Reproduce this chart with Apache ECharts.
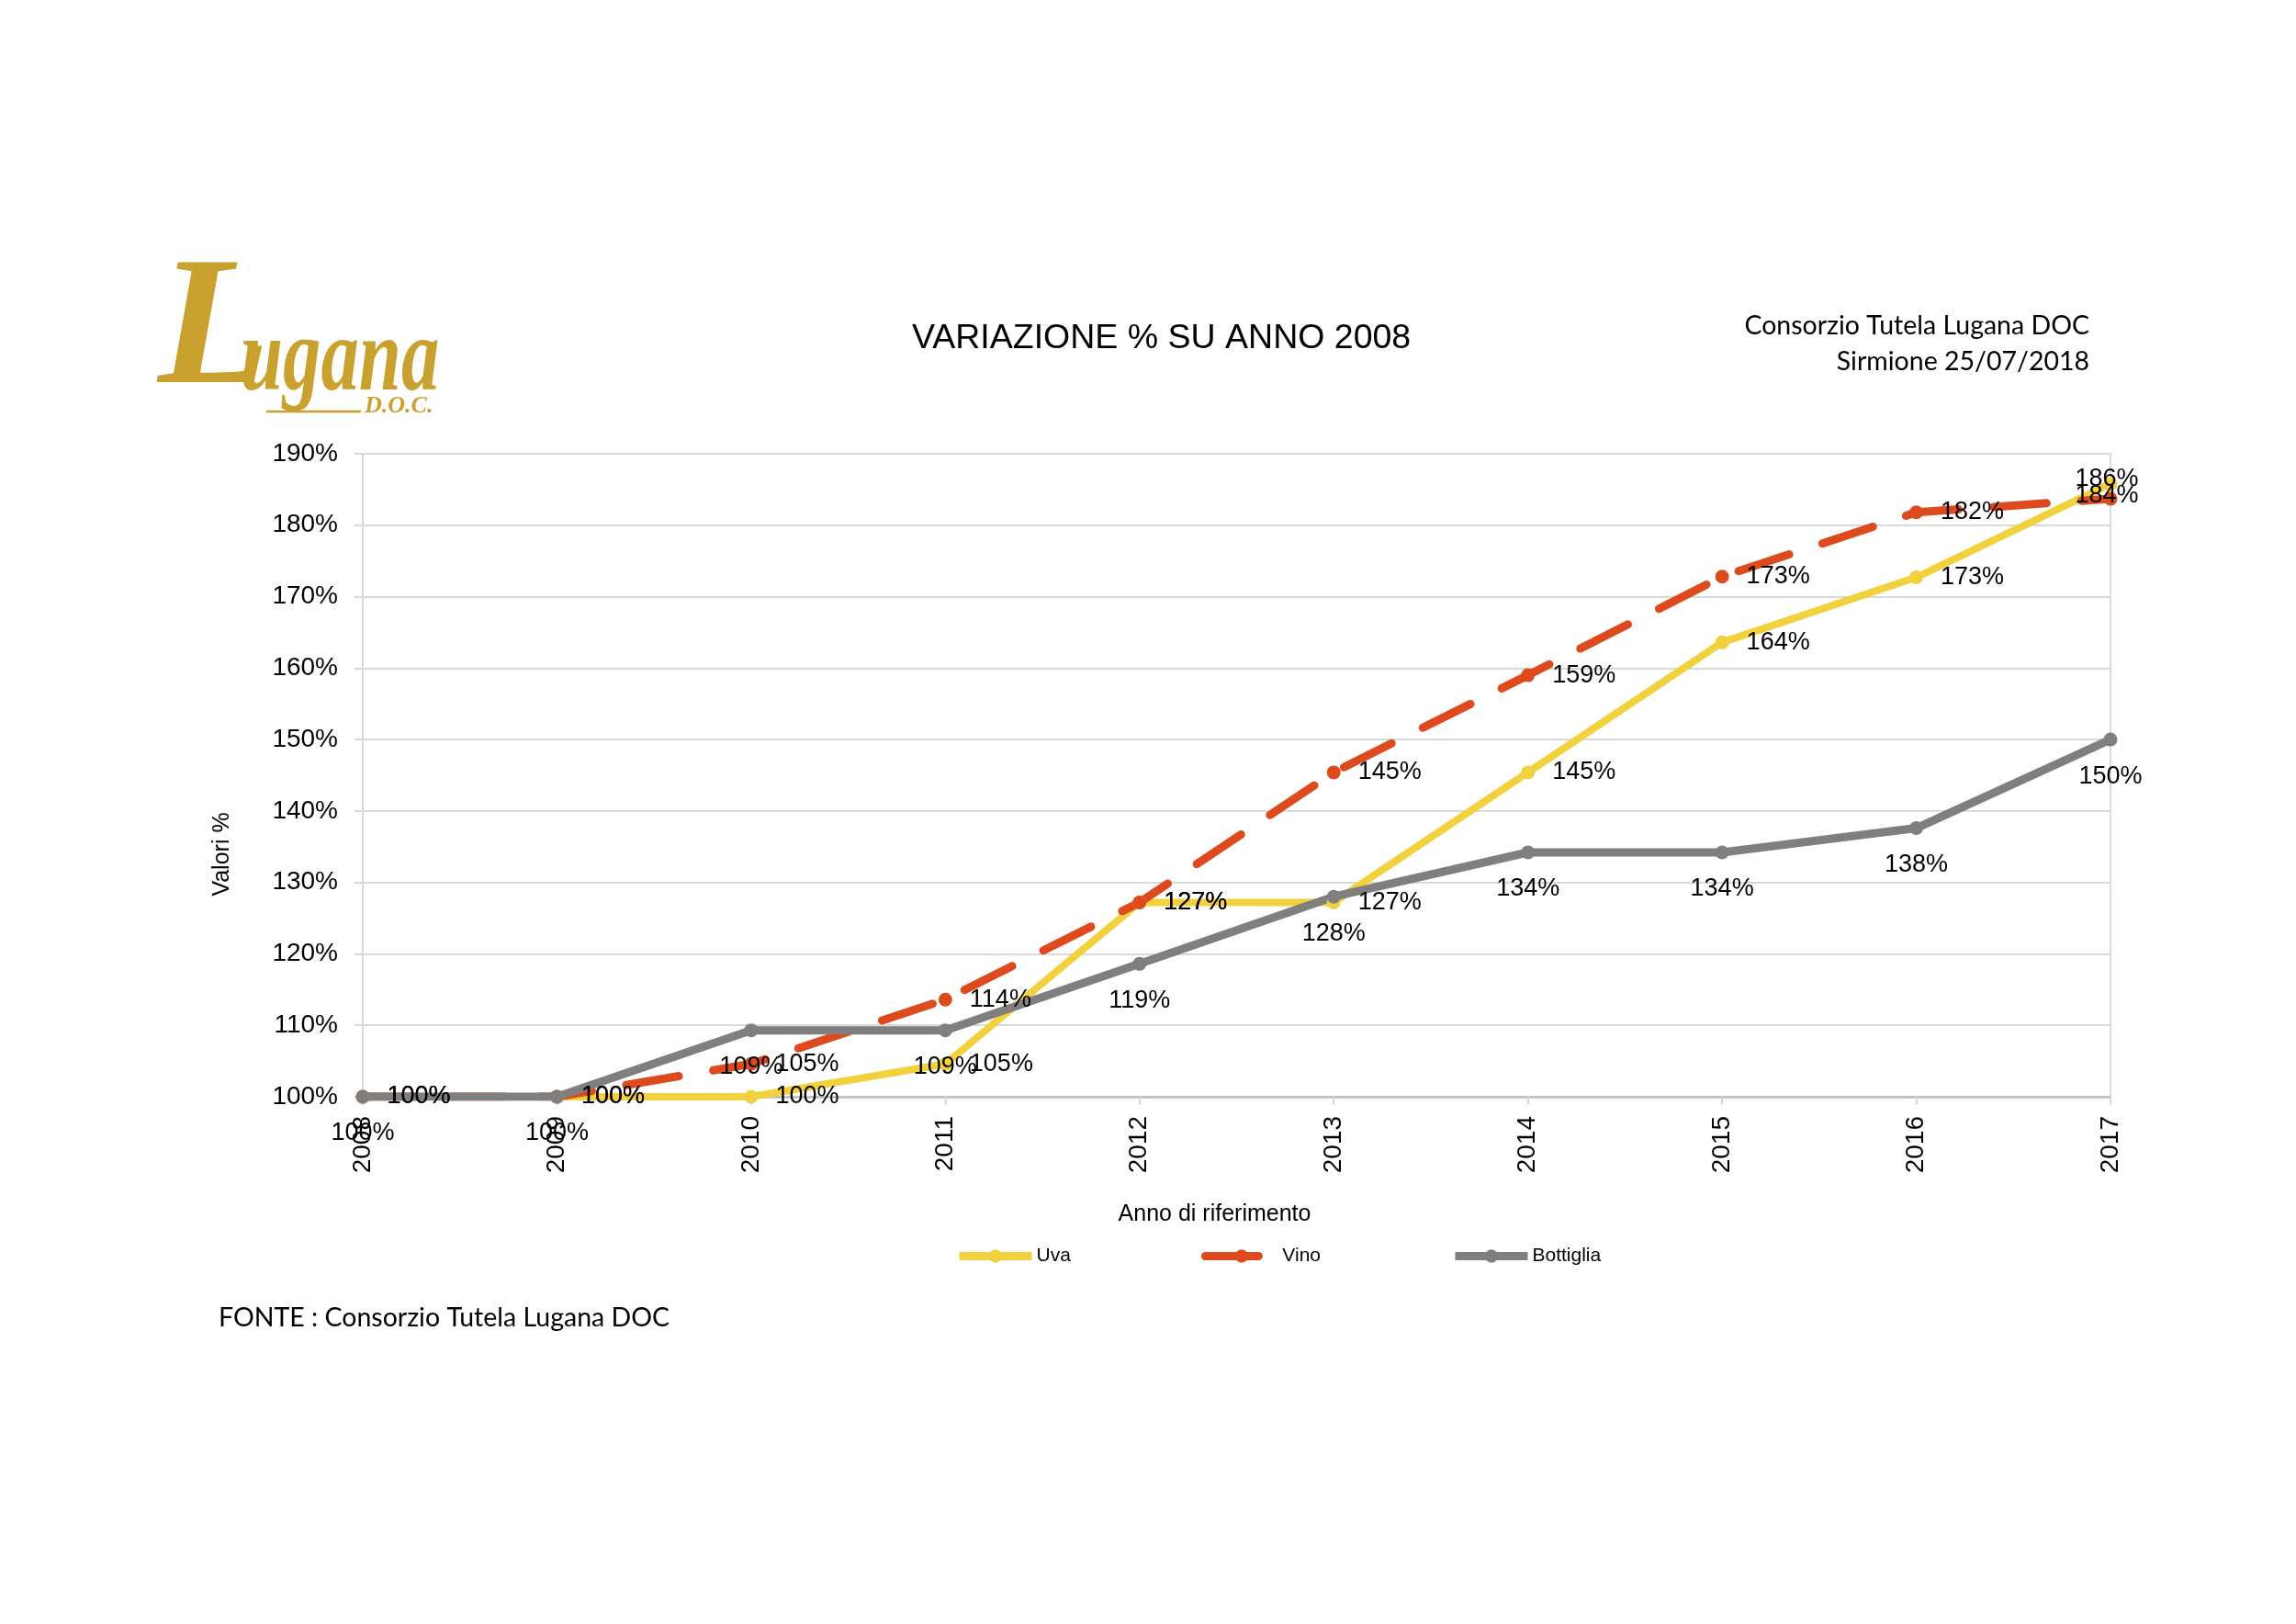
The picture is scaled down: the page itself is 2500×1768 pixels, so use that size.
<!DOCTYPE html>
<html><head><meta charset="utf-8">
<script src="https://cdn.jsdelivr.net/npm/echarts@6/dist/echarts.min.js"></script>
<style>html,body{margin:0;padding:0;background:#fff}#c{width:2500px;height:1768px}</style>
</head><body><div id="c"></div>
<script>
// ---- data ----
const years = ['2008','2009','2010','2011','2012','2013','2014','2015','2016','2017'];
const uva = [100, 100, 100, 104.6, 127.2, 127.2, 145.4, 163.6, 172.7, 185.8];
const vino = [100, 100, 104.6, 113.6, 127.2, 145.4, 159.0, 172.8, 181.8, 183.7];
const bottiglia = [100, 100, 109.3, 109.3, 118.6, 128.0, 134.2, 134.2, 137.6, 150.0];
const seriesNames = ['Uva', 'Vino', 'Bottiglia'];
const yMin = 100, yMax = 190, yInterval = 10;
const titleText = 'VARIAZIONE % SU ANNO 2008';
const headerLines = ['Consorzio Tutela Lugana DOC', 'Sirmione 25/07/2018'];
const sourceText = 'FONTE : Consorzio Tutela Lugana DOC';
const xName = 'Anno di riferimento';
const yName = 'Valori %';

// ---- styles ----
const SANS = '"Liberation Sans", Arial, sans-serif';
const CAL = 'Lato, "Open Sans", sans-serif';
const GOLD = '#C9A12E';
const C_UVA = '#F1D13E', C_VINO = '#DD4A1E', C_BOT = '#7F7F7F';
const fmt = p => Math.round(p.value) + '%';
const last = years.length - 1;

function withLastLabel(arr, offset) {
  return arr.map((v, i) => i === last ? { value: v, label: { position: 'inside', offset: offset } } : v);
}
function lbl(pos) {
  return { show: true, position: pos, distance: 19, formatter: fmt, fontSize: 27, color: '#000', fontFamily: SANS };
}

const chart = echarts.init(document.getElementById('c'), null, { renderer: 'canvas' });
chart.setOption({
  backgroundColor: '#fff',
  animation: false,
  title: {
    text: titleText, left: 988, top: 345,
    textStyle: { fontSize: 37.5, fontWeight: 'normal', color: '#000', fontFamily: SANS, lineHeight: 38 }
  },
  legend: {
    data: seriesNames, left: 1040, top: 1357, padding: 0, itemWidth: 79, itemHeight: 18, itemGap: 142,
    lineStyle: { width: 9 },
    textStyle: { fontSize: 21, color: '#000', fontFamily: SANS }
  },
  grid: {
    left: 395, right: 202, top: 494, bottom: 574, show: true,
    borderColor: '#D9D9D9', borderWidth: 2, outerBoundsMode: 'none', containLabel: false
  },
  xAxis: {
    type: 'category', data: years, boundaryGap: false,
    axisLine: { lineStyle: { color: '#BFBFBF', width: 2.5 } },
    axisTick: { show: true, length: 9, lineStyle: { color: '#D9D9D9', width: 2 } },
    axisLabel: { interval: 0, rotate: 90, fontSize: 28, color: '#000', margin: 21, fontFamily: SANS },
    name: xName, nameLocation: 'middle', nameGap: 116,
    nameTextStyle: { fontSize: 25, color: '#000', fontFamily: SANS, padding: [0, 48, 0, 0] }
  },
  yAxis: {
    type: 'value', min: yMin, max: yMax, interval: yInterval,
    axisLine: { show: true, lineStyle: { color: '#D9D9D9', width: 2 } },
    axisTick: { show: true, length: 9, lineStyle: { color: '#D9D9D9', width: 2 } },
    splitLine: { lineStyle: { color: '#D9D9D9', width: 2 } },
    axisLabel: { formatter: '{value}%', fontSize: 28, color: '#000', margin: 27, fontFamily: SANS },
    name: yName, nameLocation: 'middle', nameGap: 140, nameRotate: 90,
    nameTextStyle: { fontSize: 25, color: '#000', fontFamily: SANS, padding: [0, 172, 0, 0] }
  },
  series: [
    {
      name: seriesNames[0], type: 'line', data: withLastLabel(uva, [-4, -5]),
      symbol: 'circle', symbolSize: 15,
      lineStyle: { width: 8, color: C_UVA }, itemStyle: { color: C_UVA },
      label: lbl('right'), emphasis: { disabled: true }
    },
    {
      name: seriesNames[1], type: 'line', data: withLastLabel(vino, [-4, -3]),
      symbol: 'circle', symbolSize: 15,
      lineStyle: { width: 9, color: C_VINO, type: [58, 38], cap: 'round' }, itemStyle: { color: C_VINO },
      label: lbl('right'), emphasis: { disabled: true }
    },
    {
      name: seriesNames[2], type: 'line', data: bottiglia,
      symbol: 'circle', symbolSize: 15,
      lineStyle: { width: 9, color: C_BOT }, itemStyle: { color: C_BOT },
      label: lbl('bottom'), emphasis: { disabled: true }
    }
  ],
  graphic: [
    { type: 'text', x: 172, y: 364, style: { text: 'L', fontSize: 200, fontStyle: 'italic', fontWeight: 'bold', fontFamily: '"Liberation Serif", serif', fill: GOLD, align: 'left', verticalAlign: 'middle' } },
    { type: 'text', x: 262, y: 394, scaleX: 0.72, style: { text: 'ugana', fontSize: 115, fontStyle: 'italic', fontWeight: 'bold', fontFamily: '"Liberation Serif", serif', fill: GOLD, align: 'left', verticalAlign: 'middle' } },
    { type: 'text', x: 397, y: 442, style: { text: 'D.O.C.', fontSize: 26, fontStyle: 'italic', fontWeight: 'bold', fontFamily: '"Liberation Serif", serif', fill: GOLD, align: 'left', verticalAlign: 'middle' } },
    { type: 'line', shape: { x1: 290, y1: 448, x2: 393, y2: 448 }, style: { stroke: GOLD, lineWidth: 2.5 } },
    { type: 'text', x: 2275, y: 335, style: { text: headerLines.join('\n'), fontSize: 28.5, lineHeight: 39, fontFamily: CAL, fill: '#000', align: 'right', verticalAlign: 'top' } },
    { type: 'text', x: 238, y: 1421, style: { text: sourceText, fontSize: 28.5, lineHeight: 28, fontFamily: CAL, fill: '#000', align: 'left', verticalAlign: 'top' } }
  ]
});
</script>
</body></html>
